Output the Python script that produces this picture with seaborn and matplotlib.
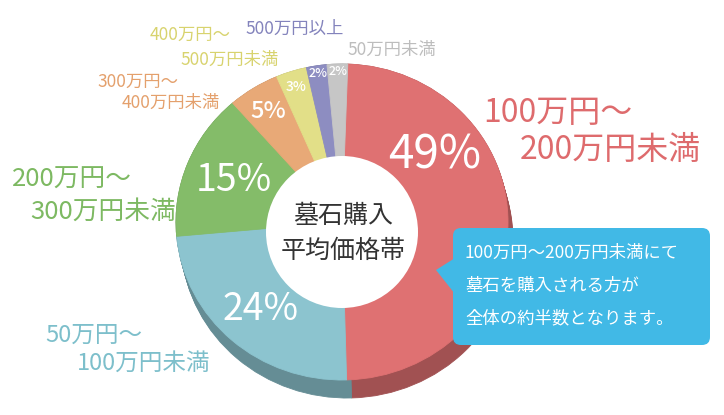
import numpy as np
import matplotlib
matplotlib.use('Agg')
import matplotlib.pyplot as plt
from matplotlib.patches import Circle, FancyBboxPatch, Polygon
import matplotlib.colors as mcolors
import seaborn as sns

# データ（時計回り、12時の位置から）
categories = ['100万円〜200万円未満', '50万円〜100万円未満', '200万円〜300万円未満',
              '300万円〜400万円未満', '400万円〜500万円未満', '500万円以上', '50万円未満']
values = [49, 24, 15, 5, 3, 2, 2]
pct_labels = ['49%', '24%', '15%', '5%', '3%', '2%', '2%']
outer_labels = [['100万円〜', '200万円未満'],
                ['50万円〜', '100万円未満'],
                ['200万円〜', '300万円未満'],
                ['300万円〜', '400万円未満'],
                ['400万円〜', '500万円未満'],
                ['500万円以上'],
                ['50万円未満']]
center_text = '墓石購入\n平均価格帯'
note_lines = ['100万円〜200万円未満にて', '墓石を購入される方が', '全体の約半数となります。']

sns.set_theme(style='white')
plt.rcParams['font.family'] = ['Noto Sans CJK JP', 'DejaVu Sans']

colors = ['#DF7172', '#8CC4CF', '#84BC69', '#E8A977', '#E2DF88', '#8D8DC1', '#C6C6C6']
label_colors = ['#DE6B6D', '#7DBFCB', '#7DB962', '#E4A06C', '#D8D36E', '#8383BC', '#BDBDBD']
side_colors = [tuple(c * 0.72 for c in mcolors.to_rgb(col)) for col in colors]

# 円の配置（ピクセル）
cx, cy, rx, ry = 342, 222, 166, 158
W, H = 724, 415

fig = plt.figure(figsize=(7.24, 4.15), dpi=100)
ax = fig.add_axes([0, 0, 1, 1])

# 側面（立体感）
for t in np.linspace(0, 1, 12):
    ax.pie(values, colors=side_colors, startangle=88, counterclock=False,
           center=(0.03 * t, -0.114 * t), radius=1,
           wedgeprops=dict(linewidth=0.6))
for p in ax.patches:
    p.set_edgecolor(p.get_facecolor())

# 上面
wedges, _ = ax.pie(values, colors=colors, startangle=88, counterclock=False,
                   radius=1, wedgeprops=dict(linewidth=0.6))
for w in wedges:
    w.set_edgecolor(w.get_facecolor())

ax.set_aspect('auto')
ax.set_xlim(-cx / rx, (W - cx) / rx)
ax.set_ylim((cy - H) / ry, cy / ry)
ax.axis('off')

# パーセント表示
pct_r = [0.70, 0.74, 0.70, 0.83, 0.90, 0.95, 0.95]
pct_size = [33, 27, 27, 17, 10, 9, 9]
for i, w in enumerate(wedges):
    ang = (w.theta1 + w.theta2) / 2
    if i == 0:
        ang = 37
    a = np.deg2rad(ang)
    ax.text(pct_r[i] * np.cos(a), pct_r[i] * np.sin(a), pct_labels[i],
            color='white', fontsize=pct_size[i], ha='center', va='center',
            fontweight='normal' if i < 3 else 'medium')

# 文字・吹き出し用のピクセル座標軸
ax2 = fig.add_axes([0, 0, 1, 1])
ax2.set_xlim(0, W)
ax2.set_ylim(H, 0)
ax2.axis('off')
ax2.patch.set_alpha(0)

ax2.add_patch(Circle((342, 232), 76, facecolor='white', edgecolor='none'))
ax2.text(343, 233, center_text, ha='center', va='center', fontsize=18,
         color='#333333', linespacing=1.45)

label_pos = [[(483, 113), (520, 150)],
             [(45, 335), (77, 363)],
             [(12, 180), (30, 212)],
             [(97, 82), (122, 103)],
             [(150, 35), (180, 60)],
             [(245, 29)],
             [(347, 50)]]
label_size = [23, 17, 18.5, 12.5, 12.5, 12.5, 12.5]
for i, lines in enumerate(outer_labels):
    for line, (x, y) in zip(lines, label_pos[i]):
        ax2.text(x, y, line, color=label_colors[i], fontsize=label_size[i],
                 ha='left', va='center')

# 吹き出し
box_col = '#41B9E6'
ax2.add_patch(FancyBboxPatch((453, 228), 257, 117,
                             boxstyle='round,pad=0,rounding_size=8',
                             facecolor=box_col, edgecolor='none'))
ax2.add_patch(Polygon([(436, 270), (455, 258), (455, 294)], closed=True,
                      facecolor=box_col, edgecolor='none'))
for line, y in zip(note_lines, [253, 286, 318]):
    ax2.text(465, y, line, color='white', fontsize=12.5, ha='left', va='center')

fig.savefig('out.png', dpi=100)
